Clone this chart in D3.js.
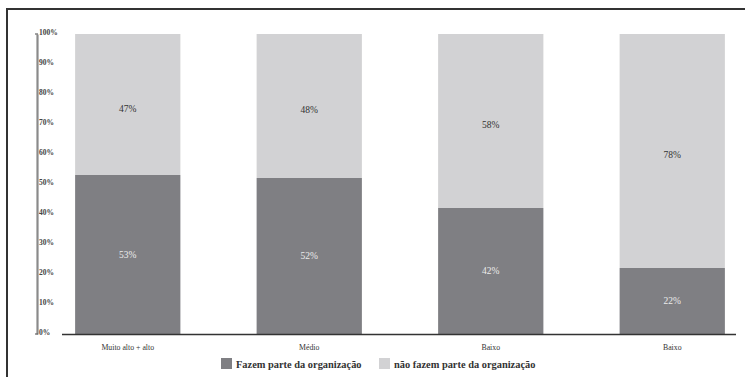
<!DOCTYPE html>
<html>
<head>
<meta charset="utf-8">
<script src="https://cdn.jsdelivr.net/npm/d3@7"></script>
<style>
  html, body { margin: 0; padding: 0; background: #fff; }
  svg { display: block; }
</style>
</head>
<body>
<svg id="chart" width="745" height="377"></svg>
<script>
// Categories and shares (%) per group
const categories = ["Muito alto + alto", "Médio", "Baixo", "Baixo (2)"];
const categoryLabels = ["Muito alto + alto", "Médio", "Baixo", "Baixo"];
const fazemParte = [53, 52, 42, 22];
const naoFazemParte = [47, 48, 58, 78];
const yTicks = [0, 10, 20, 30, 40, 50, 60, 70, 80, 90, 100];
const seriesNames = ["Fazem parte da organização", "não fazem parte da organização"];

const colors = { dark: "#7f7f83", light: "#d2d2d4" };
const serif = "'Liberation Serif', 'DejaVu Serif', serif";

const svg = d3.select("#chart");

// frame lines (top and left)
svg.append("line").attr("x1", 6).attr("x2", 745).attr("y1", 9).attr("y2", 9)
  .attr("stroke", "#333").attr("stroke-width", 2);
svg.append("line").attr("x1", 7).attr("x2", 7).attr("y1", 8).attr("y2", 377)
  .attr("stroke", "#333").attr("stroke-width", 2);

const y = d3.scaleLinear().domain([0, 100]).range([334, 34]);
const x = d3.scaleBand().domain(categories).range([37, 763])
  .paddingInner(0.42).paddingOuter(0.21);

const rows = categories.map((c, i) => ({ c, label: categoryLabels[i], a: fazemParte[i], b: naoFazemParte[i] }));

// y axis
const yAxis = d3.axisRight(y).tickValues(yTicks).tickSize(0).tickPadding(2)
  .tickFormat(d => d + "%");
const ga = svg.append("g").attr("transform", "translate(37,0)").call(yAxis);
ga.select(".domain").attr("stroke", "#8a8a8a").attr("stroke-width", 2.2);
ga.selectAll(".tick text").attr("font-family", serif).attr("font-size", 7.5)
  .attr("font-weight", "bold").attr("fill", "#444").attr("dy", "0.1em");
ga.append("line").attr("x1", -2).attr("x2", 1).attr("y1", y(100)).attr("y2", y(100))
  .attr("stroke", "#666").attr("stroke-width", 1.2);
ga.append("line").attr("x1", -2).attr("x2", 1).attr("y1", y(0)).attr("y2", y(0))
  .attr("stroke", "#666").attr("stroke-width", 1.2);

// stacked bars
const g = svg.append("g");
g.selectAll("rect.lo").data(rows).join("rect").attr("class", "lo")
  .attr("x", d => x(d.c)).attr("width", x.bandwidth())
  .attr("y", d => y(d.a)).attr("height", d => y(0) - y(d.a))
  .attr("fill", colors.dark);
g.selectAll("rect.hi").data(rows).join("rect").attr("class", "hi")
  .attr("x", d => x(d.c)).attr("width", x.bandwidth())
  .attr("y", d => y(d.a + d.b)).attr("height", d => y(d.a) - y(d.a + d.b))
  .attr("fill", colors.light);

// value labels
g.selectAll("text.vlo").data(rows).join("text").attr("class", "vlo")
  .attr("x", d => x(d.c) + x.bandwidth() / 2).attr("y", d => y(d.a / 2))
  .attr("dy", "0.35em").attr("text-anchor", "middle")
  .attr("font-family", serif).attr("font-size", 9.5).attr("fill", "#ececec")
  .text(d => d.a + "%");
g.selectAll("text.vhi").data(rows).join("text").attr("class", "vhi")
  .attr("x", d => x(d.c) + x.bandwidth() / 2).attr("y", d => y(d.a + d.b / 2) + 4)
  .attr("dy", "0.35em").attr("text-anchor", "middle")
  .attr("font-family", serif).attr("font-size", 9.5).attr("fill", "#333")
  .text(d => d.b + "%");

// baseline
svg.append("line").attr("x1", 62).attr("x2", 736).attr("y1", y(0) + 0.5).attr("y2", y(0) + 0.5)
  .attr("stroke", "#333").attr("stroke-width", 1.6);

// category labels
g.selectAll("text.cat").data(rows).join("text").attr("class", "cat")
  .attr("x", d => x(d.c) + x.bandwidth() / 2).attr("y", 350)
  .attr("text-anchor", "middle").attr("font-family", serif)
  .attr("font-size", 7.8).attr("fill", "#333")
  .text(d => d.label);

// legend
const legendItems = [
  { name: seriesNames[0], color: colors.dark, x: 221 },
  { name: seriesNames[1], color: colors.light, x: 379 }
];
const lg = svg.append("g");
lg.selectAll("rect").data(legendItems).join("rect")
  .attr("x", d => d.x).attr("y", 358).attr("width", 11).attr("height", 11)
  .attr("fill", d => d.color);
lg.selectAll("text").data(legendItems).join("text")
  .attr("x", d => d.x + 15).attr("y", 367.5)
  .attr("font-family", serif).attr("font-size", 10.4).attr("font-weight", "bold")
  .attr("fill", "#333").text(d => d.name);
</script>
</body>
</html>
